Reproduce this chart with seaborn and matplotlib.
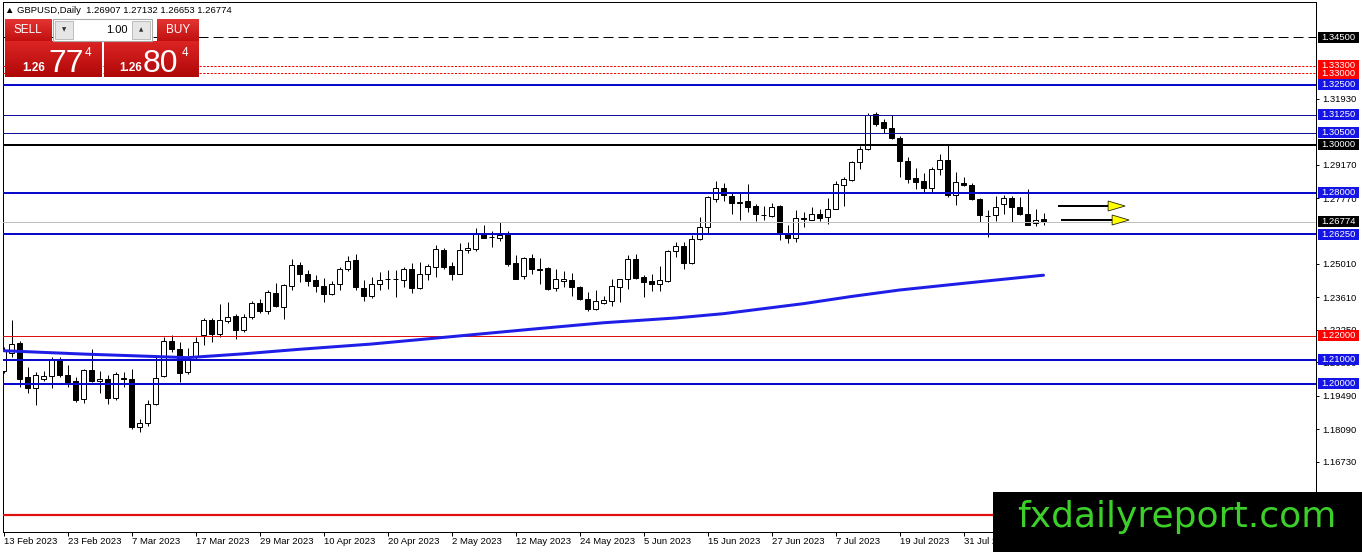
import numpy as np
import matplotlib
matplotlib.use("Agg")
import matplotlib.pyplot as plt
import seaborn as sns
from matplotlib.patches import Rectangle, Polygon
from matplotlib.colors import LinearSegmentedColormap
import matplotlib.transforms as mtransforms

# ---------------- data ----------------
opens = [1.2053,1.2128,1.2170,1.2028,1.1983,1.2019,1.2032,1.2105,1.2038,1.2010,
1.1937,1.2056,1.2011,1.2021,1.1940,1.2025,1.2018,1.1818,1.1837,1.1916,
1.2031,1.2179,1.2147,1.2049,1.2110,1.2203,1.2268,1.2210,1.2262,1.2282,
1.2226,1.2279,1.2338,1.2304,1.2380,1.2321,1.2409,1.2496,1.2458,1.2433,
1.2409,1.2377,1.2419,1.2478,1.2517,1.2402,1.2367,1.2419,1.2436,1.2438,
1.2433,1.2479,1.2401,1.2461,1.2489,1.2559,1.2492,1.2461,1.2559,1.2563,
1.2629,1.2612,1.2610,1.2629,1.2503,1.2451,1.2524,1.2478,1.2484,1.2401,
1.2430,1.2433,1.2405,1.2356,1.2314,1.2339,1.2345,1.2405,1.2437,1.2521,
1.2447,1.2429,1.2419,1.2429,1.2554,1.2575,1.2503,1.2604,1.2656,1.2772,
1.2817,1.2786,1.2755,1.2765,1.2743,1.2707,1.2702,1.2743,1.2626,1.2608,
1.2692,1.2687,1.2708,1.2696,1.2733,1.2831,1.2852,1.2926,1.2981,1.3129,
1.3094,1.3069,1.3029,1.2933,1.2859,1.2848,1.2817,1.2897,1.2936,1.2789,
1.2841,1.2831,1.2771,1.2703,1.2705,1.2751,1.2779,1.2740,1.2712,1.2671,
1.26907]
highs = [1.2155,1.2265,1.2177,1.2070,1.2049,1.2053,1.2112,1.2112,1.2077,1.2028,
1.2063,1.2147,1.2053,1.2035,1.2049,1.2047,1.2063,1.1853,1.1933,1.2112,
1.2195,1.2202,1.2174,1.2150,1.2195,1.2277,1.2277,1.2332,1.2342,1.2290,
1.2290,1.2346,1.2356,1.2394,1.2422,1.2419,1.2520,1.2510,1.2475,1.2454,
1.2444,1.2430,1.2489,1.2534,1.2542,1.2433,1.2447,1.2468,1.2475,1.2475,
1.2489,1.2507,1.2510,1.2500,1.2580,1.2566,1.2510,1.2587,1.2594,1.2652,
1.2666,1.2638,1.2677,1.2638,1.2538,1.2531,1.2541,1.2524,1.2490,1.2482,
1.2471,1.2465,1.2410,1.2384,1.2391,1.2367,1.2440,1.2440,1.2538,1.2541,
1.2454,1.2457,1.2493,1.2559,1.2594,1.2594,1.2624,1.2698,1.2786,1.2848,
1.2838,1.2803,1.2803,1.2835,1.2750,1.2743,1.2754,1.2748,1.2663,1.2726,
1.2719,1.2738,1.2733,1.2775,1.2849,1.2866,1.2933,1.2995,1.3134,1.3138,
1.3106,1.3124,1.3036,1.2950,1.2901,1.2883,1.2905,1.2961,1.2999,1.2884,
1.2866,1.2841,1.2775,1.2726,1.2785,1.2789,1.2785,1.2780,1.2813,1.2733,
1.27132]
lows = [1.2045,1.2111,1.1986,1.1961,1.1912,1.2011,1.1983,1.2028,1.1986,1.1923,
1.1919,1.2007,1.1961,1.1916,1.1933,1.1986,1.1811,1.1797,1.1825,1.1909,
1.2028,1.2132,1.2007,1.2040,1.2100,1.2161,1.2174,1.2195,1.2252,1.2189,
1.2215,1.2270,1.2295,1.2290,1.2321,1.2272,1.2391,1.2426,1.2409,1.2384,
1.2342,1.2370,1.2394,1.2470,1.2394,1.2346,1.2360,1.2391,1.2398,1.2363,
1.2405,1.2381,1.2398,1.2432,1.2447,1.2482,1.2433,1.2458,1.2545,1.2555,
1.2608,1.2573,1.2596,1.2493,1.2438,1.2440,1.2461,1.2419,1.2390,1.2387,
1.2405,1.2367,1.2350,1.2303,1.2307,1.2335,1.2325,1.2342,1.2398,1.2440,
1.2363,1.2387,1.2387,1.2426,1.2531,1.2479,1.2500,1.2601,1.2629,1.2761,
1.2764,1.2708,1.2687,1.2719,1.2681,1.2684,1.2698,1.2601,1.2587,1.2594,
1.2654,1.2684,1.2681,1.2668,1.2730,1.2743,1.2850,1.2897,1.2978,1.3080,
1.3050,1.3023,1.2863,1.2838,1.2813,1.2803,1.2803,1.2873,1.2782,1.2747,
1.2827,1.2768,1.2677,1.2614,1.2681,1.2710,1.2677,1.2705,1.2663,1.2660,
1.26653]
closes = [1.2142,1.2168,1.2021,1.1983,1.2035,1.2034,1.2105,1.2038,1.2007,1.1930,
1.2056,1.2011,1.2021,1.1940,1.2039,1.2019,1.1818,1.1837,1.1916,1.2025,
1.2179,1.2147,1.2044,1.2112,1.2174,1.2268,1.2210,1.2265,1.2279,1.2226,
1.2279,1.2338,1.2304,1.2384,1.2325,1.2412,1.2496,1.2458,1.2430,1.2409,
1.2377,1.2419,1.2478,1.2514,1.2405,1.2366,1.2419,1.2432,1.2438,1.2440,
1.2479,1.2401,1.2461,1.2493,1.2563,1.2489,1.2461,1.2559,1.2566,1.2629,
1.2610,1.2614,1.2622,1.2499,1.2440,1.2524,1.2478,1.2475,1.2398,1.2440,
1.2436,1.2405,1.2356,1.2314,1.2345,1.2349,1.2408,1.2437,1.2521,1.2443,
1.2426,1.2417,1.2433,1.2554,1.2575,1.2507,1.2604,1.2656,1.2780,1.2817,
1.2789,1.2754,1.2760,1.2740,1.2708,1.2704,1.2740,1.2631,1.2608,1.2692,
1.2690,1.2708,1.2692,1.2733,1.2835,1.2856,1.2926,1.2981,1.3124,1.3086,
1.3069,1.3029,1.2933,1.2856,1.2845,1.2817,1.2897,1.2936,1.2789,1.2842,
1.2831,1.2771,1.2705,1.2700,1.2740,1.2775,1.2740,1.2712,1.2666,1.2687,
1.26774]

date_label_bars = [0, 8, 16, 24, 32, 40, 48, 56, 64, 72, 80, 88, 96, 104, 112, 120]
date_labels = ["13 Feb 2023", "23 Feb 2023", "7 Mar 2023", "17 Mar 2023", "29 Mar 2023",
               "10 Apr 2023", "20 Apr 2023", "2 May 2023", "12 May 2023", "24 May 2023",
               "5 Jun 2023", "15 Jun 2023", "27 Jun 2023", "7 Jul 2023", "19 Jul 2023",
               "31 Jul 2023"]

ma_bars = [0, 10, 17, 23, 30, 37, 46, 57, 66, 75, 84, 90, 100, 106, 112, 120, 130]
ma_values = [1.2138, 1.2124, 1.2116, 1.2109, 1.2125, 1.2144, 1.2166, 1.2200, 1.2228,
             1.2255, 1.2275, 1.2293, 1.2335, 1.2365, 1.2392, 1.2420, 1.2454]

price_ticks = [1.31930, 1.29170, 1.27770, 1.25010, 1.23610, 1.22250, 1.20890,
               1.19490, 1.18090, 1.16730]

level_prices = [1.34500, 1.33000, 1.33300, 1.32500, 1.31250, 1.30500, 1.30000,
                1.28000, 1.26250, 1.22000, 1.21000, 1.20000, 1.14500]

arrow_tail_bars = [131.8, 132.2]
arrow_tip_bars = [140.2, 140.7]
arrow_prices = [1.27435, 1.26849]

symbol = "GBPUSD,Daily"
bid_price = 1.26774
ask_price = 1.26804
lot_size = "1.00"
watermark = "fxdailyreport.com"

# ---------------- styles ----------------
BLUE_LINE = "#0a0acd"
BLUE_BOX = "#1414e6"
RED = "#ff0000"
level_style = {
    1.34500: dict(color="black", lw=1, ls=(0, (10, 5)), box="black"),
    1.33300: dict(color=RED, lw=1, ls=(0, (2.2, 1.5)), box=RED),
    1.33000: dict(color=RED, lw=1, ls=(0, (2.2, 1.5)), box=RED),
    1.32500: dict(color=BLUE_LINE, lw=2, ls="-", box=BLUE_BOX),
    1.31250: dict(color="#10109a", lw=1, ls="-", box=BLUE_BOX),
    1.30500: dict(color="#10109a", lw=1, ls="-", box=BLUE_BOX),
    1.30000: dict(color="black", lw=2, ls="-", box="black"),
    1.28000: dict(color=BLUE_LINE, lw=2, ls="-", box=BLUE_BOX),
    1.26250: dict(color=BLUE_LINE, lw=2, ls="-", box=BLUE_BOX),
    1.22000: dict(color="#e01010", lw=1, ls="-", box=RED),
    1.21000: dict(color=BLUE_LINE, lw=2, ls="-", box=BLUE_BOX),
    1.20000: dict(color=BLUE_LINE, lw=2, ls="-", box=BLUE_BOX),
    1.14500: dict(color="#e01010", lw=2.2, ls="-", box=None),
}

sns.set_theme(style="white")
plt.rcParams["font.family"] = ["Liberation Sans", "DejaVu Sans"]

W, H = 1362, 552
PT = 0.72  # points per pixel at 100 dpi
fig = plt.figure(figsize=(W / 100, H / 100), dpi=100)
fig.patch.set_facecolor("white")

def fx(px):
    return px / W

def fy(py):
    return 1 - py / H

ax = fig.add_axes([fx(3), fy(532), fx(1316) - fx(3), fy(2) - fy(532)])
ax.set_facecolor("white")
YBOT, YTOP = 1.13795, 1.35971
ax.set_ylim(YBOT, YTOP)
ax.set_xlim(-0.0625, 164.06)
dpp = (YTOP - YBOT) / 530.0  # price per pixel

o = np.array(opens); h = np.array(highs); l = np.array(lows); c = np.array(closes)
x = np.arange(len(o))
up = c >= o
body_lo = np.minimum(o, c)
body_h = np.maximum(np.abs(c - o), 0.4 * dpp)

ax.vlines(x, l, h, color="black", lw=1 * PT, zorder=3)
ax.bar(x[up], body_h[up], bottom=body_lo[up], width=0.6, color="white",
       edgecolor="black", linewidth=1 * PT, zorder=4)
ax.bar(x[~up], body_h[~up], bottom=body_lo[~up], width=0.6, color="black",
       edgecolor="black", linewidth=1 * PT, zorder=4)

# current price line
ax.axhline(closes[-1], color="#c0c0c0", lw=1 * PT, zorder=5)

# levels
for p in level_prices:
    st = level_style[p]
    ax.axhline(p, color=st["color"], lw=st["lw"] * PT, ls=st["ls"], zorder=6)

# moving average
sns.lineplot(x=ma_bars, y=ma_values, ax=ax, color="#1e1ee8", lw=3 * PT, zorder=7)

# arrows
for tb, hb, py in zip(arrow_tail_bars, arrow_tip_bars, arrow_prices):
    base = hb - 17 / 8.0
    ax.plot([tb, base + 0.2], [py, py], color="black", lw=2 * PT, zorder=8,
            solid_capstyle="butt")
    ax.add_patch(Polygon([(base, py + 5 * dpp), (hb, py), (base, py - 5 * dpp)],
                         closed=True, facecolor="#ffff00", edgecolor="#202000",
                         lw=0.8 * PT, zorder=9))

# axes styling
for s in ax.spines.values():
    s.set_color("black")
    s.set_linewidth(1 * PT)
ax.yaxis.tick_right()
ax.set_yticks(price_ticks)
ax.set_yticklabels([f"{v:.5f}" for v in price_ticks])
ax.set_xticks(date_label_bars)
ax.set_xticklabels(date_labels, ha="left")
ax.tick_params(axis="y", which="both", right=True, left=False, length=3 * PT,
               width=1 * PT, color="black", pad=3 * PT, labelsize=6.8,
               labelcolor="black", direction="out")
ax.tick_params(axis="x", which="both", bottom=True, length=4 * PT, width=1 * PT,
               color="black", pad=1.5 * PT, labelsize=6.8, labelcolor="black",
               direction="out")
ax.set_xlabel(""); ax.set_ylabel("")
ax.grid(False)

# level label boxes on the price scale
blend = mtransforms.blended_transform_factory(fig.transFigure, ax.transData)
box_items = [(p, level_style[p]["box"]) for p in level_prices if level_style[p]["box"]]
box_items.append((closes[-1], "black"))
for p, col in box_items:
    ax.add_patch(Rectangle((fx(1318), p - 5.5 * dpp), fx(41), 11 * dpp, transform=blend,
                           facecolor=col, edgecolor="none", clip_on=False, zorder=20))
    ax.text(fx(1321.5), p, f"{p:.5f}", transform=blend, color="white", fontsize=6.8,
            va="center", ha="left", clip_on=False, zorder=21)

# header
fig.text(fx(5), fy(10.5),
         f"\u25B2 {symbol}  {opens[-1]:.5f} {highs[-1]:.5f} {lows[-1]:.5f} {closes[-1]:.5f}",
         fontsize=6.8, color="black", va="center", ha="left", zorder=10)

# one-click trading panel
def grad_box(x0, y0, x1, y1, top, bottom):
    a = fig.add_axes([fx(x0), fy(y1), fx(x1 - x0), (y1 - y0) / H])
    cmap = LinearSegmentedColormap.from_list("g", [top, bottom])
    a.imshow(np.linspace(0, 1, 64).reshape(-1, 1), aspect="auto", cmap=cmap,
             extent=[0, 1, 1, 0])
    a.set_axis_off()
    return a

grad_box(5, 19, 52, 41, "#e43434", "#c01010")
grad_box(157, 19, 199, 41, "#e43434", "#c01010")
grad_box(5, 41, 102, 77, "#dc2424", "#b00808")
grad_box(104, 41, 199, 77, "#dc2424", "#b00808")
fig.patches.append(Rectangle((fx(53), fy(41)), fx(99), 22 / H, transform=fig.transFigure,
                             facecolor="white", edgecolor="#a8a8a8", lw=0.8, zorder=2))
for bx in (55, 132):
    fig.patches.append(Rectangle((fx(bx), fy(39)), fx(18), 18 / H, transform=fig.transFigure,
                                 facecolor="#e6e6e6", edgecolor="#b4b4b4", lw=0.6, zorder=3))
fig.text(fx(64), fy(30), "\u25BC", fontsize=4, color="#303030", ha="center", va="center",
         family=["DejaVu Sans"], zorder=4)
fig.text(fx(141), fy(30), "\u25B2", fontsize=4, color="#303030", ha="center", va="center",
         family=["DejaVu Sans"], zorder=4)
fig.text(fx(128), fy(30), lot_size, fontsize=8, color="black", ha="right", va="center",
         zorder=4)
fig.text(fx(28), fy(30), "SELL", fontsize=8.5, color="white", ha="center", va="center",
         zorder=4)
fig.text(fx(178), fy(30), "BUY", fontsize=8.5, color="white", ha="center", va="center",
         zorder=4)

def price_parts(pr):
    s = f"{pr:.5f}"
    return s[:4], s[4:6], s[6]

for pr, x_small, x_big, x_sup in ((bid_price, 22, 50, 85), (ask_price, 119, 145, 182)):
    sm, big, sup = price_parts(pr)
    fig.text(fx(x_small), fy(71), sm, fontsize=8.5, fontweight="bold", color="white",
             ha="left", va="baseline", zorder=4)
    fig.text(fx(x_big - 2), fy(71.5), big, fontsize=23, color="white", ha="left",
             va="baseline", zorder=4)
    fig.text(fx(x_sup), fy(55.5), sup, fontsize=8.5, color="white", ha="left",
             va="baseline", zorder=4)

# watermark
fig.patches.append(Rectangle((fx(993), 0), 1 - fx(993), 60.3 / H, transform=fig.transFigure,
                             facecolor="black", edgecolor="none", zorder=5))
fig.text(fx(1177), fy(526.7), watermark, fontsize=26, color="#3ccf2a", ha="center",
         va="baseline", family=["DejaVu Sans"], zorder=6)

fig.savefig("out.png", dpi=100)
